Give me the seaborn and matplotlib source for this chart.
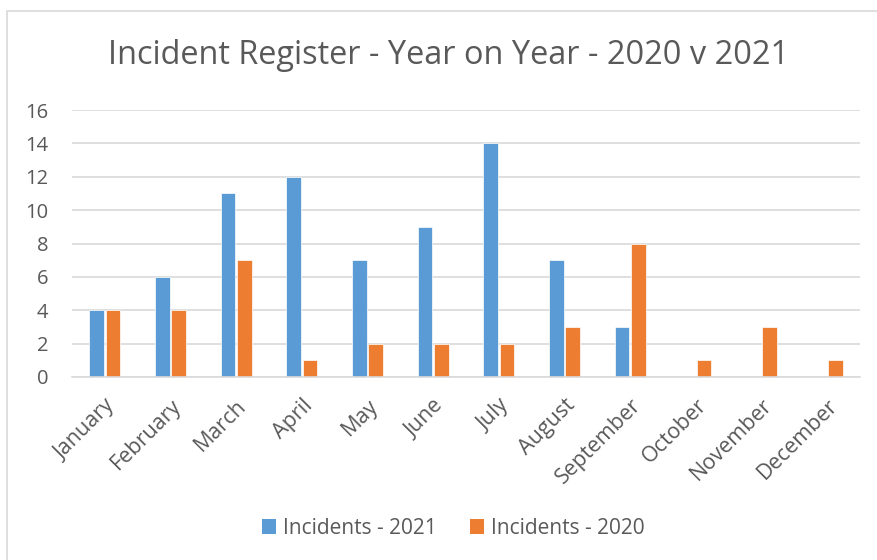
import matplotlib
matplotlib.use("Agg")
import matplotlib.pyplot as plt
import seaborn as sns
import pandas as pd
from matplotlib.patches import Rectangle, Patch

months = ["January", "February", "March", "April", "May", "June", "July",
          "August", "September", "October", "November", "December"]
incidents_2021 = [4, 6, 11, 12, 7, 9, 14, 7, 3, 0, 0, 0]
incidents_2020 = [4, 4, 7, 1, 2, 2, 2, 3, 8, 1, 3, 1]
series_names = ["Incidents - 2021", "Incidents - 2020"]
colors = ["#5B9BD5", "#ED7D31"]

df = pd.DataFrame({
    "Month": months * 2,
    "Incidents": incidents_2021 + incidents_2020,
    "Series": [series_names[0]] * 12 + [series_names[1]] * 12,
})

sns.set_theme(style="white")
plt.rcParams['font.family'] = ['Open Sans', 'DejaVu Sans']

fig = plt.figure(figsize=(8.78, 5.6), dpi=100)
ax = fig.add_axes([72/878, 1-377/560, (860-72)/878, (377-110)/560])

sns.barplot(data=df, x="Month", y="Incidents", hue="Series", order=months,
            hue_order=series_names, palette=colors, width=0.5, gap=0.1,
            saturation=1, ax=ax, legend=False, errorbar=None,
            edgecolor="white", linewidth=0.5)

ax.set_ylim(0, 16)
ax.set_yticks(range(0, 17, 2))
ax.set_xlim(-0.5, 11.5)
ax.yaxis.grid(True, color="#D9D9D9", linewidth=1.2)
ax.set_axisbelow(True)
for s in ["top", "right", "left"]:
    ax.spines[s].set_visible(False)
ax.spines["bottom"].set_color("#D9D9D9")
ax.spines["bottom"].set_linewidth(1.2)
ax.set_xlabel("")
ax.set_ylabel("")
ax.tick_params(axis="both", length=0, colors="#595959")
ax.tick_params(axis="y", pad=17, labelsize=14.5)
plt.setp(ax.get_xticklabels(), rotation=45, ha="right", rotation_mode="anchor")
ax.tick_params(axis="x", pad=13, labelsize=15.5)

fig.text(448/878, 1-55/560, "Incident Register - Year on Year - 2020 v 2021",
         ha="center", va="center", fontsize=23.4, color="#595959")

handles = [Patch(facecolor=c, edgecolor="none") for c in colors]
fig.legend(handles, series_names, loc="center", bbox_to_anchor=(453/878, 1-528/560),
           ncol=2, frameon=False, fontsize=15, labelcolor="#595959",
           handlelength=0.7, handleheight=0.7, columnspacing=1.6, handletextpad=0.3)

fig.patches.append(Rectangle((7/878, -0.1), 1.0, 1-11/560+0.1, transform=fig.transFigure,
                             fill=False, edgecolor="#D9D9D9", linewidth=1.2))

fig.savefig("out.png", dpi=100)
